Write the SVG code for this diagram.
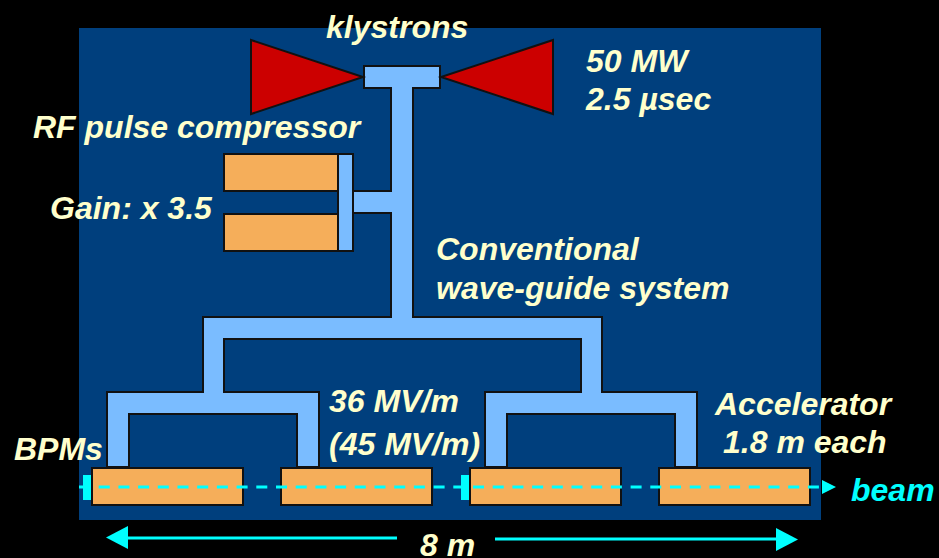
<svg xmlns="http://www.w3.org/2000/svg" width="939" height="558" viewBox="0 0 939 558">
<style>
.t{font-family:"Liberation Sans",Arial,sans-serif;font-weight:bold;font-style:italic;font-size:32px;fill:#ffffcc}
.wg{fill:#7abcff;stroke:#111;stroke-width:2}
.acc{fill:#f5ae5a;stroke:#111;stroke-width:2}
.kly{fill:#cc0000;stroke:#111;stroke-width:2}
.bpm{fill:#00ffff}
.cy{stroke:#00ffff;fill:none}
</style>
<rect width="939" height="558" fill="#000"/>
<rect x="79" y="28" width="742" height="492" fill="#003f7d"/>
<g id="connectors">
<path class="wg" d="M391 88H364V66H440V88H413V317H602V392H697V467H675V414H507V467H485V392H581V339H224V392H319V467H297V414H129V467H107V392H203V317H391V213H353V191H391Z"/>
</g>
<g id="klystron-left"><polygon class="kly" points="251,40 363,77 251,114"/></g>
<g id="klystron-right"><polygon class="kly" points="553,40 441,77 553,114"/></g>
<g id="compressor">
<rect class="acc" x="224" y="154" width="114" height="37"/>
<rect class="acc" x="224" y="214" width="114" height="37"/>
<rect class="wg" x="338" y="154" width="15" height="97"/>
</g>
<g id="accelerators">
<rect class="acc" x="92" y="468" width="151" height="37"/>
<rect class="acc" x="281" y="468" width="151" height="37"/>
<rect class="acc" x="470" y="468" width="151" height="37"/>
<rect class="acc" x="659" y="468" width="151" height="37"/>
</g>
<g id="bpms">
<rect class="bpm" x="83" y="475" width="8" height="25"/>
<rect class="bpm" x="461" y="475" width="8" height="25"/>
</g>
<g id="beam">
<line class="cy" x1="79" y1="487" x2="822" y2="487" stroke-width="3" stroke-dasharray="11 8.7"/>
<polygon class="bpm" points="822,480 836,487 822,494"/>
</g>
<g id="span">
<line class="cy" x1="126" y1="538" x2="397" y2="538" stroke-width="3"/>
<polygon class="bpm" points="106,537.5 128,526 128,549"/>
<line class="cy" x1="495" y1="539" x2="778" y2="539" stroke-width="3"/>
<polygon class="bpm" points="798,539.5 776,528 776,551"/>
</g>
<g id="labels">
<text class="t" x="326" y="38">klystrons</text>
<text class="t" x="586" y="72">50 MW</text>
<text class="t" x="586" y="110">2.5 µsec</text>
<text class="t" x="33" y="138">RF pulse compressor</text>
<text class="t" x="50" y="219">Gain: x 3.5</text>
<text class="t" x="436" y="260">Conventional</text>
<text class="t" x="436" y="299">wave-guide system</text>
<text class="t" x="329" y="412">36 MV/m</text>
<text class="t" x="329" y="455">(45 MV/m)</text>
<text class="t" x="715" y="415">Accelerator</text>
<text class="t" x="723" y="453">1.8 m each</text>
<text class="t" x="14" y="460">BPMs</text>
<text class="t" x="851" y="501" style="fill:#00ffff">beam</text>
<text class="t" x="420" y="556">8 m</text>
</g>
</svg>
